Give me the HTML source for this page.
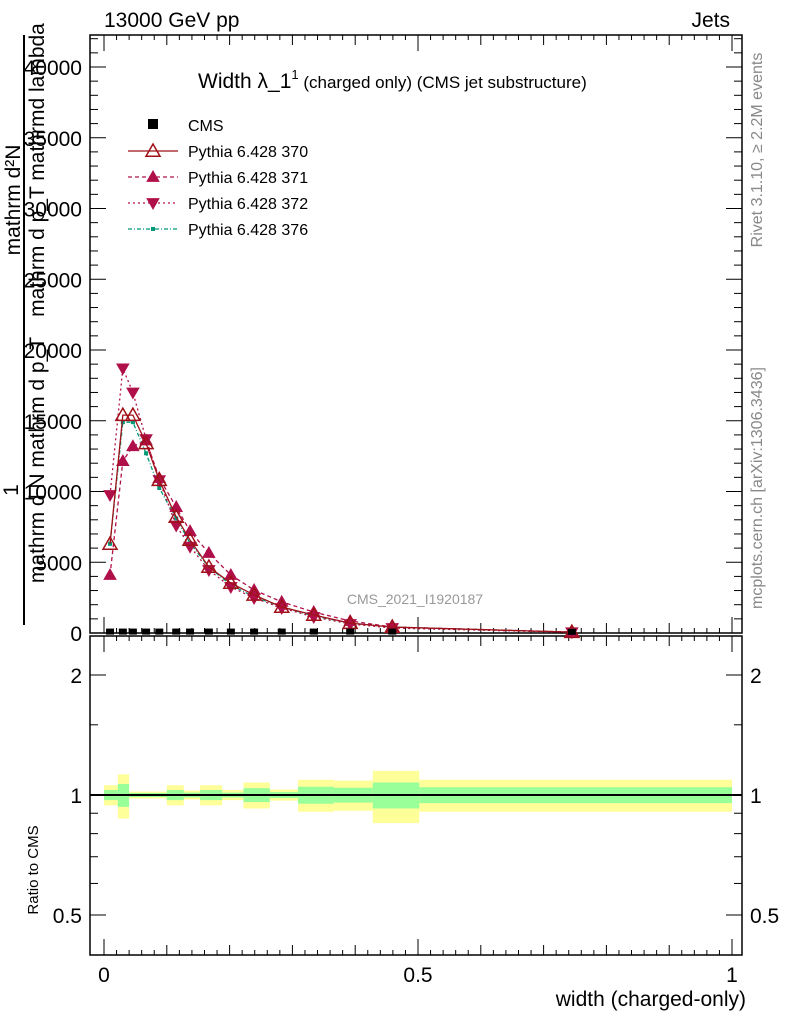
<!DOCTYPE html>
<html><head><meta charset="utf-8"><style>
body{margin:0;background:#fff;width:786px;height:1024px;overflow:hidden;font-family:"Liberation Sans",sans-serif}
svg text{font-family:"Liberation Sans","DejaVu Sans",sans-serif}
</style></head><body>
<svg id="c" width="786" height="1024" xmlns="http://www.w3.org/2000/svg">
<g id="g"></g>
</svg>
<script>
const xs=[0.0096,0.030,0.046,0.067,0.088,0.115,0.137,0.167,0.202,0.239,0.283,0.334,0.392,0.459,0.745];
const cms=[30,30,30,30,30,30,30,30,30,30,30,30,30,30,10];
const p370=[6290,15400,15400,13400,10800,8200,6570,4660,3530,2690,1840,1270,700,420,60];
const p371=[4100,12150,13200,13600,10950,8900,7200,5650,4100,3040,2200,1480,850,420,70];
const p372=[9750,18700,17000,13700,10800,7600,6100,4450,3250,2470,1770,1130,640,350,50];
const p376=[6300,14900,14900,12700,10250,8100,6350,4650,3400,2550,1850,1200,700,420,60];
const rEdges=[0,0.022,0.04,0.077,0.1,0.127,0.153,0.188,0.222,0.264,0.309,0.366,0.428,0.502,1.0];
const rYellow=[0.058,0.127,0.02,0.02,0.058,0.026,0.058,0.029,0.075,0.032,0.092,0.087,0.15,0.092];
const rGreen=[0.029,0.066,0.012,0.012,0.029,0.014,0.029,0.014,0.04,0.017,0.049,0.043,0.075,0.046];
const yTicks=[0,5000,10000,15000,20000,25000,30000,35000,40000];
const xTickLabels=["0","0.5","1"];
const rTicks=[0.5,1,2];

const L=90,R=742,T=35,B=633,RT=636,RB=955;
const X=v=>104+v*628;
const Y=v=>633-v*0.01415;
const RY=v=>795-120*Math.log2(v);
const NS="http://www.w3.org/2000/svg";
const g=document.getElementById('g');
function el(t,a,txt){const e=document.createElementNS(NS,t);for(const k in a)e.setAttribute(k,a[k]);if(txt!==undefined)e.textContent=txt;g.appendChild(e);return e;}

rYellow.forEach((e,i)=>{
 const r=el('rect',{x:X(rEdges[i]),y:RY(1+e),width:X(rEdges[i+1])-X(rEdges[i]),height:RY(1-e)-RY(1+e),fill:'#ffff99'});
 
 
});
rGreen.forEach((e,i)=>{
 const r=el('rect',{x:X(rEdges[i]),y:RY(1+e),width:X(rEdges[i+1])-X(rEdges[i]),height:RY(1-e)-RY(1+e),fill:'#99ff99'});
 
 
});
const rl=el('line',{x1:L,x2:R,y1:RY(1),y2:RY(1),stroke:'#000','stroke-width':2});



const f1=el('rect',{x:L,y:T,width:R-L,height:B-T,fill:'none',stroke:'#000','stroke-width':1.5});


const f2=el('rect',{x:L,y:RT,width:R-L,height:RB-RT,fill:'none',stroke:'#000','stroke-width':1.5});



for(let v=0;v<=42000;v+=1000){const y=Y(v);if(y<T)break;const maj=v%5000===0;
 el('line',{x1:L,x2:L+(maj?16:8),y1:y,y2:y,stroke:'#000'});el('line',{x1:R,x2:R-(maj?16:8),y1:y,y2:y,stroke:'#000'});}
yTicks.forEach(v=>{const t=el('text',{x:82,y:Y(v)+8,'font-size':21,'text-anchor':'end'},String(v));
 
 });
for(let v=0;v<=1.0001;v+=0.02){const x=X(v);const maj=Math.abs(v*2-Math.round(v*2))<1e-6;const mid=Math.abs(v*10-Math.round(v*10))<1e-6;
 const h=maj?16:(mid?10:5);
 el('line',{x1:x,x2:x,y1:B,y2:B-h,stroke:'#000'});el('line',{x1:x,x2:x,y1:T,y2:T+h,stroke:'#000'});
 el('line',{x1:x,x2:x,y1:RB,y2:RB-h,stroke:'#000'});el('line',{x1:x,x2:x,y1:RT,y2:RT+h,stroke:'#000'});}
xTickLabels.forEach((s,i)=>{const t=el('text',{x:X(i*0.5),y:982,'font-size':21,'text-anchor':'middle'},s);
 
 });
[0.5,0.6,0.7,0.8,0.9,1,1.5,2].forEach(v=>{const y=RY(v);const maj=rTicks.includes(v);
 el('line',{x1:L,x2:L+(maj?16:8),y1:y,y2:y,stroke:'#000'});el('line',{x1:R,x2:R-(maj?16:8),y1:y,y2:y,stroke:'#000'});});
rTicks.forEach(v=>{const t=el('text',{x:82,y:RY(v)+8,'font-size':21,'text-anchor':'end'},String(v));
 
 
 const t2=el('text',{x:750,y:RY(v)+8,'font-size':21},String(v));
 
 });

function tri(x,y,s,up,fill,col){const p=up?`${x},${y-s} ${x-s},${y+s*0.75} ${x+s},${y+s*0.75}`:`${x},${y+s} ${x-s},${y-s*0.75} ${x+s},${y-s*0.75}`;
 return el('polygon',{points:p,fill:fill,stroke:col,'stroke-width':1.5});}
function series(vals,col,dash,mk,name){
 const pts=vals.map((v,i)=>X(xs[i])+','+Y(v)).join(' ');
 const pl=el('polyline',{points:pts,fill:'none',stroke:col,'stroke-width':1.3,'stroke-dasharray':dash});
 
 
 vals.forEach((v,i)=>{const m=mk(X(xs[i]),Y(v));
  
  });
}
series(p376,'#009977','4,2,1,2',(x,y)=>el('rect',{x:x-2,y:y-2,width:4,height:4,fill:'#009977'}),'pythia-376');
series(p372,'#b0104a','2,3',(x,y)=>tri(x,y,5.5,false,'#b0104a','#b0104a'),'pythia-372');
series(p371,'#b0104a','4,3',(x,y)=>tri(x,y,5.5,true,'#b0104a','#b0104a'),'pythia-371');
series(p370,'#a01018','',(x,y)=>tri(x,y,7,true,'none','#a01018'),'pythia-370');
cms.forEach((v,i)=>{const r=el('rect',{x:X(xs[i])-4,y:Y(v)-4,width:8,height:6,fill:'#000'});
 
 });

const leg=[['Pythia 6.428 370','#a01018','',0],['Pythia 6.428 371','#b0104a','4,3',1],['Pythia 6.428 372','#b0104a','2,3',2],['Pythia 6.428 376','#009977','4,2,1,2',3]];
const lc=el('rect',{x:148,y:119,width:10,height:10,fill:'#000'});


const lt=el('text',{x:188,y:131,'font-size':16},'CMS');


leg.forEach((d,i)=>{const y=151+i*26;
 el('line',{x1:128,x2:178,y1:y,y2:y,stroke:d[1],'stroke-width':1.3,'stroke-dasharray':d[2]});
 if(i===0)tri(153,y,7,true,'none',d[1]);else if(i===1)tri(153,y,5.5,true,d[1],d[1]);else if(i===2)tri(153,y,5.5,false,d[1],d[1]);else el('rect',{x:151,y:y-2,width:4,height:4,fill:d[1]});
 const t=el('text',{x:188,y:y+6,'font-size':16},d[0]);
 
 });
</script>
<svg width="786" height="1024" style="position:absolute;left:0;top:0" xmlns="http://www.w3.org/2000/svg">
<text x="104" y="27" font-size="21">13000 GeV pp</text>
<text x="730" y="27" font-size="21" text-anchor="end">Jets</text>
<text x="198" y="88" font-size="21">Width λ_1<tspan font-size="13" dy="-9">1</tspan><tspan font-size="17" dy="9"> (charged only) (CMS jet substructure)</tspan></text>
<text x="415" y="604" font-size="14" fill="#999" text-anchor="middle">CMS_2021_I1920187</text>
<text x="746" y="1006" font-size="21" text-anchor="end">width (charged-only)</text>
<text transform="translate(38,870) rotate(-90)" font-size="15" text-anchor="middle">Ratio to CMS</text>
<line x1="24" y1="35" x2="24" y2="625" stroke="#000" stroke-width="2"/>
<text transform="translate(18,490) rotate(-90)" font-size="21" text-anchor="middle">1</text>
<text transform="translate(20,200) rotate(-90)" font-size="21" text-anchor="middle">mathrm d²N</text>
<text transform="translate(44,170) rotate(-90)" font-size="21" text-anchor="middle">mathrm d p_T mathrmd lambda</text>
<text transform="translate(44,460) rotate(-90)" font-size="21" text-anchor="middle">mathrm d N mathrm d p_T</text>
<text transform="translate(762,150) rotate(-90)" font-size="16" fill="#888" text-anchor="middle">Rivet 3.1.10, ≥ 2.2M events</text>
<text transform="translate(762,488) rotate(-90)" font-size="16" fill="#888" text-anchor="middle">mcplots.cern.ch [arXiv:1306.3436]</text>
</svg>
</body></html>
